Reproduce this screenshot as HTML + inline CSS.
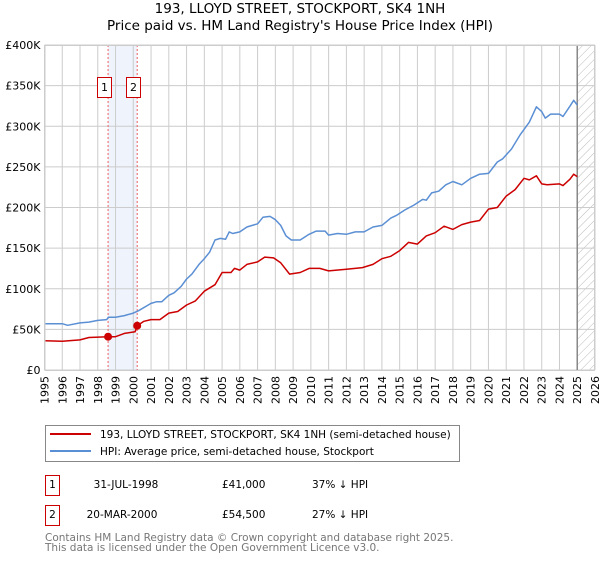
<!DOCTYPE html>
<html><head><meta charset="utf-8"><style>
body{margin:0;background:#fff;width:600px;height:560px;overflow:hidden}
svg{font-family:"DejaVu Sans","Liberation Sans",sans-serif}
</style></head><body>
<svg id="c" width="600" height="560" xmlns="http://www.w3.org/2000/svg">
<defs><pattern id="hatch" width="6" height="6" patternUnits="userSpaceOnUse" patternTransform="rotate(45)"><line x1="0" y1="0" x2="0" y2="6" stroke="#bbb" stroke-width="1"/></pattern></defs>
<text x="300" y="13" text-anchor="middle" font-size="13.5">193, LLOYD STREET, STOCKPORT, SK4 1NH</text>
<text x="300" y="30" text-anchor="middle" font-size="13.5">Price paid vs. HM Land Registry's House Price Index (HPI)</text>
<g id="grid"></g><g id="marks"></g><g id="axes"></g>
<g>
<rect x="45.5" y="425.5" width="414" height="36" fill="#fff" stroke="#888"/>
<line x1="50" y1="434" x2="91" y2="434" stroke="#cc0000" stroke-width="2"/>
<text x="100" y="438" font-size="10.5">193, LLOYD STREET, STOCKPORT, SK4 1NH (semi-detached house)</text>
<line x1="50" y1="451" x2="91" y2="451" stroke="#5b8fd4" stroke-width="2"/>
<text x="100" y="455" font-size="10.5">HPI: Average price, semi-detached house, Stockport</text>
</g>
<g font-size="10.5">
<rect x="45.5" y="475.5" width="14" height="20" fill="#fff" stroke="#cc0000"/>
<text x="52.5" y="488" text-anchor="middle">1</text>
<text x="126" y="488" text-anchor="middle">31-JUL-1998</text>
<text x="222" y="488">£41,000</text>
<text x="312" y="488">37% ↓ HPI</text>
<rect x="45.5" y="505.5" width="14" height="20" fill="#fff" stroke="#cc0000"/>
<text x="52.5" y="518" text-anchor="middle">2</text>
<text x="122" y="518" text-anchor="middle">20-MAR-2000</text>
<text x="222" y="518">£54,500</text>
<text x="312" y="518">27% ↓ HPI</text>
</g>
<text x="45" y="541" font-size="10.5" fill="#777">Contains HM Land Registry data © Crown copyright and database right 2025.</text>
<text x="45" y="551" font-size="10.5" fill="#777">This data is licensed under the Open Government Licence v3.0.</text>
</svg>
<script>
const yTicks=[0,50,100,150,200,250,300,350,400];
const yTickLabels=["£0","£50K","£100K","£150K","£200K","£250K","£300K","£350K","£400K"];
const xYears=[1995,1996,1997,1998,1999,2000,2001,2002,2003,2004,2005,2006,2007,2008,2009,2010,2011,2012,2013,2014,2015,2016,2017,2018,2019,2020,2021,2022,2023,2024,2025,2026];
const hpiT=[1995,1996,1996.3,1997,1997.5,1998,1998.5,1998.6,1999,1999.5,2000,2000.3,2001,2001.3,2001.6,2002,2002.3,2002.7,2003,2003.3,2003.7,2004,2004.3,2004.6,2004.9,2005.2,2005.4,2005.6,2006,2006.4,2007,2007.3,2007.7,2008,2008.3,2008.6,2008.9,2009.4,2009.9,2010.3,2010.8,2011.0,2011.5,2012.0,2012.5,2013.0,2013.5,2014.0,2014.5,2014.8,2015.3,2015.8,2016.3,2016.5,2016.8,2017.2,2017.6,2018.0,2018.5,2019.0,2019.5,2020.0,2020.5,2020.8,2021.3,2021.8,2022.3,2022.7,2023.0,2023.2,2023.5,2024.0,2024.2,2024.6,2024.8,2025.0];
const hpiV=[57,57,55,58,59,61,62,65,65,67,70,73,82,84,84,92,95,103,112,118,130,137,145,160,162,161,170,168,170,176,180,188,189,185,178,165,160,160,167,171,171,166,168,167,170,170,176,178,187,190,197,203,210,209,218,220,228,232,228,236,241,242,256,260,272,290,305,324,318,310,315,315,312,325,332,326];
const ppT=[1995,1996,1997,1997.5,1998.58,1999,1999.5,2000.1,2000.22,2000.6,2001,2001.5,2002,2002.5,2003,2003.5,2004,2004.6,2005,2005.5,2005.7,2006,2006.4,2007,2007.4,2007.9,2008.3,2008.8,2009.4,2009.9,2010.5,2011.0,2012.0,2012.9,2013.5,2014.0,2014.5,2015.0,2015.5,2016.0,2016.5,2017.0,2017.5,2018.0,2018.5,2019.0,2019.5,2020.0,2020.5,2021.0,2021.5,2022.0,2022.3,2022.7,2023.0,2023.3,2024.0,2024.2,2024.6,2024.8,2025.0];
const ppV=[36,35.5,37,40,41,41,45,47,54.5,60,62,62,70,72,80,85,97,105,120,120,125,123,130,133,139,138,132,118,120,125,125,122,124,126,130,137,140,147,157,155,165,169,177,173,179,182,184,198,200,214,222,236,234,239,229,228,229,227,235,241,238];
const saleT=[1998.58,2000.22];
const saleV=[41,54.5];
const saleLabels=["1","2"];
const NS="http://www.w3.org/2000/svg";
const X0=44.5,X1=595,Y0=370,Y1=45;
const xs=t=>X0+(t-1995)/(2026-1995)*(X1-X0);
const ys=v=>Y0-v/400*(Y0-Y1);
function mk(tag,attrs,parent){const e=document.createElementNS(NS,tag);for(const k in attrs)e.setAttribute(k,attrs[k]);parent.appendChild(e);return e;}
const grid=document.getElementById('grid'),marks=document.getElementById('marks'),axes=document.getElementById('axes');
let sh=mk('rect',{x:xs(saleT[0]),y:Y1,width:xs(saleT[1])-xs(saleT[0]),height:Y0-Y1,fill:'#eef3fc'},grid);


let ht=mk('rect',{x:xs(2025),y:Y1,width:X1-xs(2025),height:Y0-Y1,fill:'url(#hatch)'},grid);


yTicks.forEach((v,i)=>{
 let l=mk('line',{x1:X0,x2:X1,y1:ys(v),y2:ys(v),stroke:'#ccc','stroke-width':1},grid);
 
 
 let t=mk('text',{x:X0-4,y:ys(v)+4,'text-anchor':'end','font-size':11},axes);t.textContent=yTickLabels[i];
 
 
});
xYears.forEach(yr=>{
 let l=mk('line',{x1:xs(yr),x2:xs(yr),y1:Y1,y2:Y0,stroke:'#ccc','stroke-width':1},grid);
 
 
 let g=mk('g',{transform:'translate('+(xs(yr)+4).toFixed(1)+','+(Y0+6)+') rotate(-90)'},axes);
 let t=mk('text',{x:0,y:0,'text-anchor':'end','font-size':11},g);t.textContent=yr;
 
 
});
let nl=mk('line',{x1:xs(2025),x2:xs(2025),y1:Y1,y2:Y0,stroke:'#888','stroke-width':1.5},grid);


saleT.forEach((t,i)=>{
 let l=mk('line',{x1:xs(t),x2:xs(t),y1:Y1,y2:Y0,stroke:'#f06060','stroke-dasharray':'2,2','stroke-width':1},grid);
 
 
 let b=mk('rect',{x:Math.round(xs(t))-10.5,y:77.5,width:14,height:20,fill:'#fff',stroke:'#cc0000'},grid);
 
 
 let tx=mk('text',{x:+b.getAttribute('x')+7,y:91,'text-anchor':'middle','font-size':11},grid);tx.textContent=saleLabels[i];
 
 
});
function line(T,V,col,name){
 let d=T.map((t,i)=>(i?'L':'M')+xs(t).toFixed(1)+','+ys(V[i]).toFixed(1)).join('');
 let p=mk('path',{d:d,fill:'none',stroke:col,'stroke-width':1.5,'stroke-linejoin':'round'},marks);
 
 
}
line(hpiT,hpiV,'#5b8fd4','hpi-line');
line(ppT,ppV,'#cc0000','property-price-line');
saleT.forEach((t,i)=>{
 let c=mk('circle',{cx:xs(t),cy:ys(saleV[i]),r:4,fill:'#cc0000'},marks);
 
 
});
let fr=mk('rect',{x:X0+.5,y:Y1+.5,width:X1-X0-1,height:Y0-Y1,fill:'none',stroke:'#ccc'},axes);


</script>
</body></html>
